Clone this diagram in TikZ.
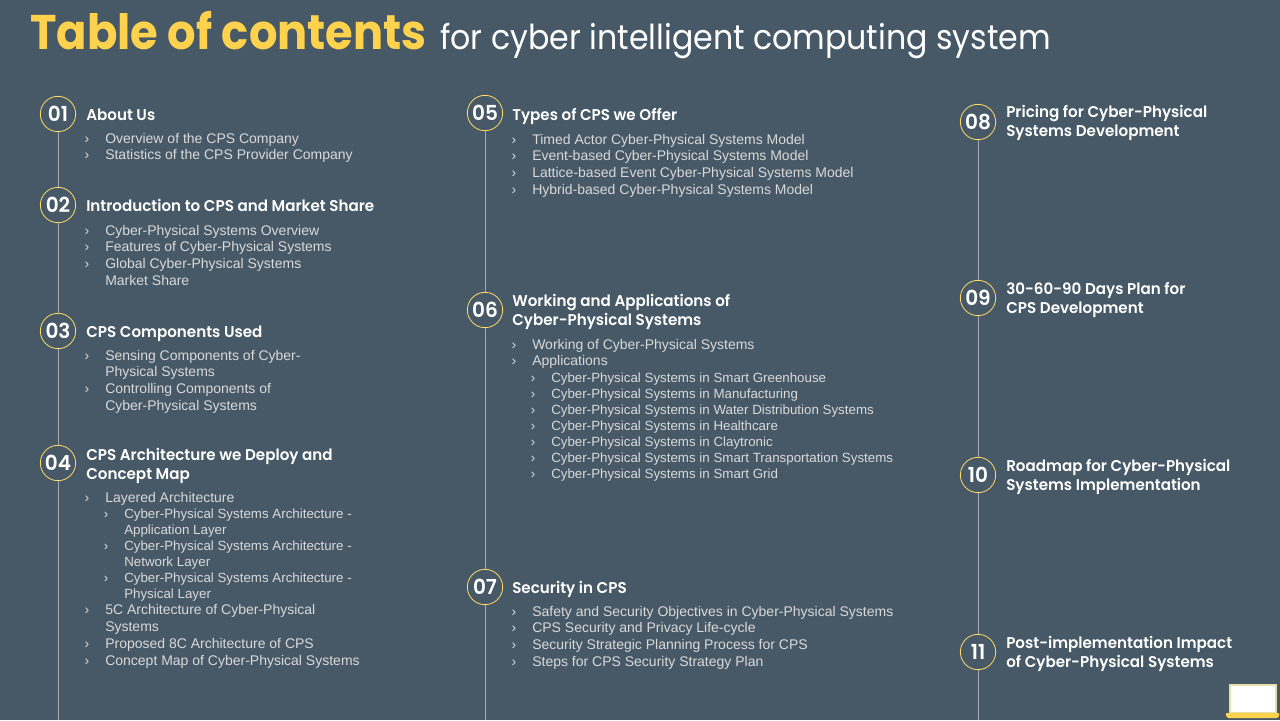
\documentclass[tikz,border=0pt]{standalone}
\usepackage{fontspec}
\setmainfont{Liberation Sans}
\newfontfamily\headfont[FakeStretch=0.97,BoldFont={Poppins SemiBold}]{Poppins}
\newfontfamily\titlefont[FakeStretch=0.92]{Poppins}
\usetikzlibrary{positioning}
\definecolor{slatebg}{RGB}{71, 89, 102}
\definecolor{titleyellow}{RGB}{255, 210, 77}
\definecolor{itemgray}{RGB}{217, 217, 217}
\definecolor{linegray}{RGB}{166, 170, 174}
\definecolor{laptopedge}{RGB}{232, 222, 170}
% one list line with its chevron
\newcommand{\entry}[4]{%
  \node (#1) [itemtext] at (#2,#3) {#4};
  \node (#1c) [itemtext, left=11.5pt of #1.west] {›};
}
\newcommand{\subentry}[4]{%
  \node (#1) [subtext] at (#2,#3) {#4};
  \node (#1c) [subtext, left=11.5pt of #1.west] {›};
}

\begin{document}
\begin{tikzpicture}[
    x=0.75pt, y=-0.75pt,
    numcircle/.style={circle, minimum size=26.5pt, inner sep=0pt, draw=titleyellow!85!white, fill=slatebg, line width=0.6pt, text=white, font=\headfont\fontsize{15.5}{16}\selectfont\bfseries},
    heading/.style={anchor=west, inner sep=0pt, align=left, text height=9pt, text depth=2.5pt, text=white, font=\headfont\fontsize{11.7}{14.25}\selectfont\bfseries},
    itemtext/.style={anchor=west, inner sep=0pt, text height=8pt, text depth=2pt, text=itemgray, font=\fontsize{10.5}{12}\selectfont},
    subtext/.style={itemtext, font=\fontsize{10}{12}\selectfont},
    timeline/.style={draw=linegray, line width=0.6pt}
]

\fill [slatebg] (0,0) rectangle (1280,720);

\node (titlebold) [anchor=base west, inner sep=0pt, text=titleyellow, font=\titlefont\fontsize{36.5}{40}\selectfont\bfseries] at (30,50) {Table of contents};
\node (titlerest) [anchor=base west, inner sep=0pt, text=white, font=\titlefont\fontsize{25.8}{28}\selectfont] at (440,50) {for cyber intelligent computing system};

% timeline bottoms
\coordinate (endA) at (58,720);
\coordinate (endB) at (485,720);
\coordinate (endC) at (978,720);

\node (n01) [numcircle] at (58,114) {01};
\node (n02) [numcircle] at (58,205) {02};
\node (n03) [numcircle] at (58,331) {03};
\node (n04) [numcircle] at (58,463) {04};
\node (n05) [numcircle] at (485,113) {05};
\node (n06) [numcircle] at (485,310) {06};
\node (n07) [numcircle] at (485,587) {07};
\node (n08) [numcircle] at (978,122) {08};
\node (n09) [numcircle] at (978,298) {09};
\node (n10) [numcircle] at (978,475) {10};
\node (n11) [numcircle] at (978,652) {11};

\draw [timeline] (n01) -- (n02);
\draw [timeline] (n02) -- (n03);
\draw [timeline] (n03) -- (n04);
\draw [timeline] (n04) -- (endA);
\draw [timeline] (n05) -- (n06);
\draw [timeline] (n06) -- (n07);
\draw [timeline] (n07) -- (endB);
\draw [timeline] (n08) -- (n09);
\draw [timeline] (n09) -- (n10);
\draw [timeline] (n10) -- (n11);
\draw [timeline] (n11) -- (endC);

% first column
\node (h01) [heading] at (86,116) {About Us};
\entry{a1}{105}{139}{Overview of the CPS Company}
\entry{a2}{105}{155}{Statistics of the CPS Provider Company}

\node (h02) [heading] at (86,207) {Introduction to CPS and Market Share};
\entry{b1}{105}{231}{Cyber-Physical Systems Overview}
\entry{b2}{105}{247}{Features of Cyber-Physical Systems}
\entry{b3}{105}{264}{Global Cyber-Physical Systems}
\node (b3x) [itemtext] at (105,281) {Market Share};

\node (h03) [heading] at (86,333) {CPS Components Used};
\entry{c1}{105}{356}{Sensing Components of Cyber-}
\node (c1x) [itemtext] at (105,372) {Physical Systems};
\entry{c2}{105}{389}{Controlling Components of}
\node (c2x) [itemtext] at (105,406) {Cyber-Physical Systems};

\node (h04) [heading] at (86,475) {CPS Architecture we Deploy and\\Concept Map};
\entry{d1}{105}{498}{Layered Architecture}
\subentry{d2}{124}{514}{Cyber-Physical Systems Architecture -}
\node (d2x) [subtext] at (124,530) {Application Layer};
\subentry{d3}{124}{546}{Cyber-Physical Systems Architecture -}
\node (d3x) [subtext] at (124,562) {Network Layer};
\subentry{d4}{124}{578}{Cyber-Physical Systems Architecture -}
\node (d4x) [subtext] at (124,594) {Physical Layer};
\entry{d5}{105}{610}{5C Architecture of Cyber-Physical}
\node (d5x) [itemtext] at (105,627) {Systems};
\entry{d6}{105}{644}{Proposed 8C Architecture of CPS}
\entry{d7}{105}{661}{Concept Map of Cyber-Physical Systems}

% second column
\node (h05) [heading] at (512,116) {Types of CPS we Offer};
\entry{e1}{532}{140}{Timed Actor Cyber-Physical Systems Model}
\entry{e2}{532}{156}{Event-based Cyber-Physical Systems Model}
\entry{e3}{532}{173}{Lattice-based Event Cyber-Physical Systems Model}
\entry{e4}{532}{190}{Hybrid-based Cyber-Physical Systems Model}

\node (h06) [heading] at (512,321) {Working and Applications of\\Cyber-Physical Systems};
\entry{f1}{532}{345}{Working of Cyber-Physical Systems}
\entry{f2}{532}{361}{Applications}
\subentry{f3}{551}{378}{Cyber-Physical Systems in Smart Greenhouse}
\subentry{f4}{551}{394}{Cyber-Physical Systems in Manufacturing}
\subentry{f5}{551}{410}{Cyber-Physical Systems in Water Distribution Systems}
\subentry{f6}{551}{426}{Cyber-Physical Systems in Healthcare}
\subentry{f7}{551}{442}{Cyber-Physical Systems in Claytronic}
\subentry{f8}{551}{458}{Cyber-Physical Systems in Smart Transportation  Systems}
\subentry{f9}{551}{474}{Cyber-Physical Systems in Smart Grid}

\node (h07) [heading] at (512,589) {Security in CPS};
\entry{g1}{532}{612}{Safety and Security Objectives in Cyber-Physical Systems}
\entry{g2}{532}{628}{CPS Security and Privacy Life-cycle}
\entry{g3}{532}{645}{Security Strategic Planning Process for CPS}
\entry{g4}{532}{662}{Steps for CPS Security Strategy Plan}

% third column
\node (h08) [heading] at (1006,132) {Pricing for Cyber-Physical\\Systems Development};
\node (h09) [heading] at (1006,309) {30-60-90 Days Plan for\\CPS Development};
\node (h10) [heading] at (1006,486) {Roadmap for Cyber-Physical\\Systems Implementation};
\node (h11) [heading] at (1006,663) {Post-implementation Impact\\of Cyber-Physical Systems};

% laptop
\draw [laptopedge, fill=white, line width=2pt] (1230,685) rectangle (1276,713);
\fill [titleyellow] (1226,713) -- (1279,713) -- (1279,716) -- (1277,718) -- (1228,718) -- (1226,716) -- cycle;

\end{tikzpicture}
\end{document}
